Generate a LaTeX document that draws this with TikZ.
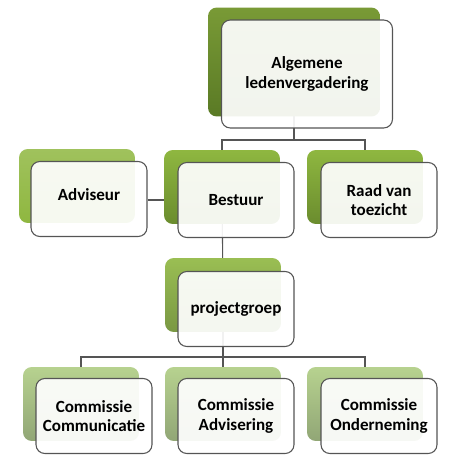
\documentclass[tikz,border=0pt]{standalone}
\usepackage{fontspec}
\setmainfont{Carlito}
\usetikzlibrary{positioning,backgrounds}

\definecolor{olijf}{RGB}{121,154,54}
\definecolor{olijfdonker}{RGB}{90,122,37}
\definecolor{gras}{RGB}{143,183,64}
\definecolor{grasdonker}{RGB}{106,140,46}
\definecolor{licht}{RGB}{183,210,143}
\definecolor{lichtdonker}{RGB}{145,166,118}
\definecolor{rand}{RGB}{85,85,85}

\tikzset{
    back/.style={rounded corners=5pt, minimum width=2.32cm, minimum height=1.48cm, top color=gras, bottom color=grasdonker, draw=none},
    front/.style={rounded corners=5pt, minimum width=2.32cm, minimum height=1.5cm, draw=rand, line width=0.6pt, fill=white, fill opacity=0.92, text opacity=1, align=center, font=\bfseries\fontsize{9.7}{11.2}\selectfont},
    tak/.style={draw=rand, line width=0.6pt}
}

\begin{document}
\begin{tikzpicture}[x=0.02cm,y=-0.02cm]
    \useasboundingbox (0,0) rectangle (460,463);

    \node [back, minimum width=3.44cm, minimum height=2.18cm, top color=olijf, bottom color=olijfdonker](g1) at (294,62) {};
    \node [back, top color=gras!85, bottom color=gras](g2) at (77,186) {};
    \node [back](g3) at (222,187) {};
    \node [back](g4) at (365,187) {};
    \node [back, top color=gras!90!white, bottom color=grasdonker!90](g5) at (223,295) {};
    \node [back, top color=licht, bottom color=lichtdonker](g6) at (81,404) {};
    \node [back, top color=licht, bottom color=lichtdonker](g7) at (223,404) {};
    \node [back, top color=licht, bottom color=lichtdonker](g8) at (365,404) {};

    \node [front, minimum width=3.42cm, minimum height=2.16cm](n1) at (307,74) {Algemene\\ledenvergadering};
    \node [front, text depth=5pt](n2) at (89,199) {Adviseur};
    \node [front](n3) at (236,200) {Bestuur};
    \node [front](n4) at (379,200) {Raad van\\toezicht};
    \node [front](n5) at (236,309) {projectgroep};
    \node [front](n6) at (94,416) {Commissie\\Communicatie};
    \node [front](n7) at (236,416) {Commissie\\Advisering};
    \node [front](n8) at (379,416) {Commissie\\Onderneming};

    \coordinate (bar1) at (294,140);
    \coordinate (bar2) at (223,357);

    \begin{scope}[on background layer]
    \draw [tak] (g1.center) -- (g1.center |- bar1);
    \draw [tak] (g3.center) |- (bar1) -| (g4.center);
    \draw [tak] (n2.east |- n3) -- (n3.center);
    \draw [tak] (g3.center) -- (g5.center);
    \draw [tak] (g6.center) |- (bar2) -| (g8.center);
    \draw [tak] (g5.center) -- (g7.center);
    \end{scope}
\end{tikzpicture}
\end{document}
